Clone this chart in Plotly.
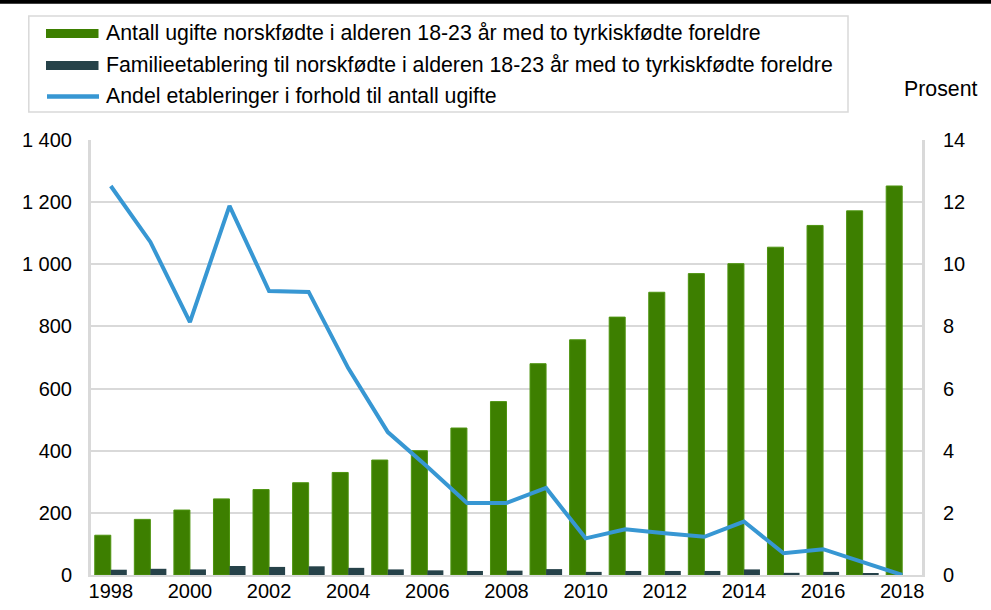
import plotly.graph_objects as go

years = list(range(1998, 2019))
ugifte = [128, 179, 209, 245, 275, 297, 330, 370, 400, 473, 558, 680, 757, 830, 910,
          970, 1002, 1055, 1125, 1172, 1252]
etablering = [17, 20, 18, 29, 26, 28, 23, 18, 15, 13, 14, 19, 10, 13, 13, 13, 18, 7, 10, 5, 0]
andel = [12.52, 10.72, 8.14, 11.88, 9.14, 9.11, 6.66, 4.6, 3.48, 2.32, 2.32, 2.8, 1.18,
         1.47, 1.34, 1.23, 1.72, 0.70, 0.83, 0.43, 0.0]

legend_labels = [
    "Antall ugifte norskfødte i alderen 18-23 år med to tyrkiskfødte foreldre",
    "Familieetablering til norskfødte i alderen 18-23 år med to tyrkiskfødte foreldre",
    "Andel etableringer i forhold til antall ugifte",
]
x_ticks = list(range(1998, 2019, 2))

GREEN = "#3d7f00"
DARK = "#264249"
BLUE = "#3797d3"
GRID = "#d9d9d9"
FONT = "Liberation Sans, Arial, sans-serif"

W, H = 991, 610
ML, MR, MT, MB = 91, 69, 140, 35
PW, PH = W - ML - MR, H - MT - MB


def px(x):
    return (x - ML) / PW


def py(y):
    return (H - MB - y) / PH


fig = go.Figure()
fig.add_trace(go.Bar(x=years, y=ugifte, name=legend_labels[0], marker_color=GREEN,
                     marker_line=dict(color="#4e9410", width=1), showlegend=False))
fig.add_trace(go.Bar(x=years, y=etablering, name=legend_labels[1], marker_color=DARK,
                     marker_line_width=0, showlegend=False))
fig.add_trace(go.Scatter(x=years, y=andel, name=legend_labels[2], yaxis="y2", mode="lines",
                         line=dict(color=BLUE, width=4), showlegend=False))

shapes = [
    # top black band
    dict(type="rect", xref="paper", yref="paper", x0=px(-5), x1=px(W + 5), y0=py(3.7), y1=py(-5),
         fillcolor="black", line_width=0, layer="above"),
    # legend box
    dict(type="rect", xref="paper", yref="paper", x0=px(28.8), x1=px(848), y0=py(112), y1=py(16),
         fillcolor="rgba(0,0,0,0)", line=dict(color=GRID, width=1.5)),
    # legend symbols
    dict(type="rect", xref="paper", yref="paper", x0=px(46), x1=px(98.5), y0=py(38), y1=py(29),
         fillcolor=GREEN, line_width=0),
    dict(type="rect", xref="paper", yref="paper", x0=px(46), x1=px(98.5), y0=py(70), y1=py(61),
         fillcolor=DARK, line_width=0),
    dict(type="line", xref="paper", yref="paper", x0=px(47), x1=px(99), y0=py(96.5), y1=py(96.5),
         line=dict(color=BLUE, width=4.5)),
]

annotations = []
for lbl, yc in zip(legend_labels, [33.0, 65.0, 96.0]):
    annotations.append(dict(text=lbl, xref="paper", yref="paper", x=px(103.5), y=py(yc),
                            xanchor="left", yanchor="middle", showarrow=False,
                            font=dict(size=21.3, color="black", family=FONT)))
annotations.append(dict(text="Prosent", xref="paper", yref="paper", x=px(940), y=py(89),
                        xanchor="center", yanchor="middle", showarrow=False,
                        font=dict(size=21.3, color="black", family=FONT)))

fig.update_layout(
    width=W, height=H,
    margin=dict(l=ML, r=MR, t=MT, b=MB, pad=0, autoexpand=False),
    paper_bgcolor="white", plot_bgcolor="white",
    barmode="group", bargap=0.19, bargroupgap=0,
    separators=", ",
    font=dict(family=FONT, size=20, color="black"),
    shapes=shapes, annotations=annotations,
    showlegend=False,
    xaxis=dict(range=[1997.5, 2018.5], tickvals=x_ticks, ticktext=[str(v) for v in x_ticks],
               showgrid=False, showline=True, linecolor=GRID, linewidth=2,
               ticks="", ticklabelstandoff=-3, zeroline=False, automargin=False),
    yaxis=dict(range=[0, 1400], dtick=200, tickformat=",", showgrid=True, gridcolor=GRID,
               gridwidth=2, showline=True, linecolor=GRID, linewidth=3, ticks="",
               ticklabelstandoff=12, zeroline=False, automargin=False),
    yaxis2=dict(range=[0, 14], dtick=2, overlaying="y", side="right", showgrid=False,
                showline=True, linecolor=GRID, linewidth=3, ticks="",
                ticklabelstandoff=14, zeroline=False, automargin=False),
)

fig.write_html(
    "out.html",
    config={"displayModeBar": False},
    post_script="document.body.style.margin='0';document.body.style.padding='0';"
                "document.body.style.overflow='hidden';",
)
